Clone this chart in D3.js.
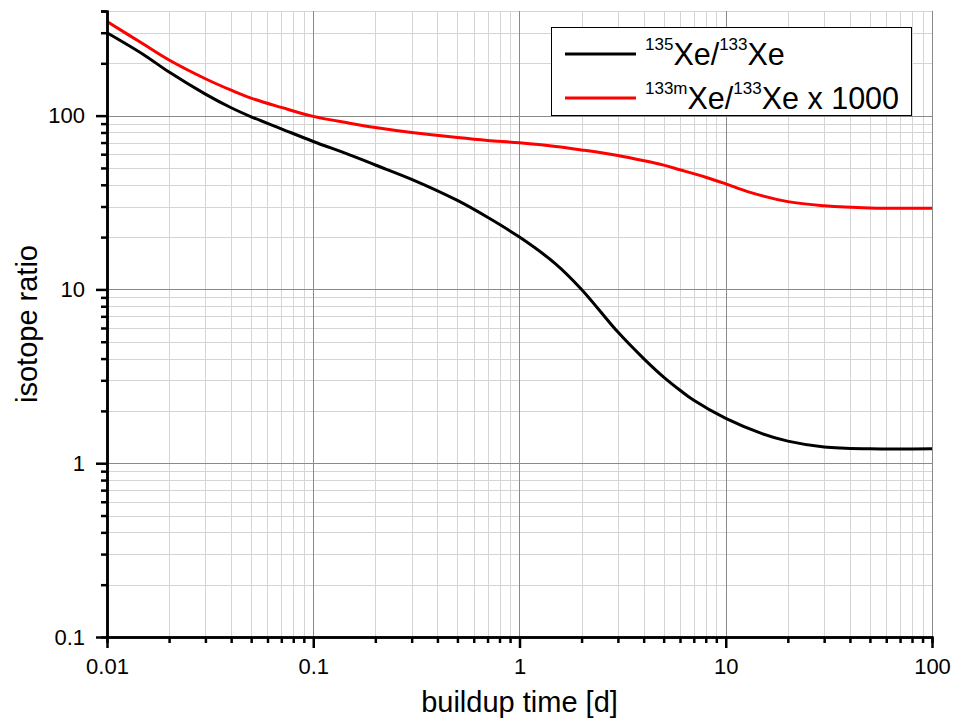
<!DOCTYPE html>
<html>
<head>
<meta charset="utf-8">
<script src="https://cdn.jsdelivr.net/npm/d3@7"></script>
<style>
  html, body { margin: 0; padding: 0; background: #fff; }
  svg { display: block; font-family: "Liberation Sans", Arial, sans-serif; }
</style>
</head>
<body>
<svg id="chart" width="956" height="720"></svg>
<script>
// 135Xe / 133Xe against buildup time (days)
const timeXe135 = [0.01, 0.015, 0.02, 0.03, 0.04, 0.05, 0.07, 0.1, 0.15, 0.2, 0.3, 0.5, 0.7, 1, 1.5, 2, 3, 4, 5, 6, 7, 10, 15, 20, 30, 50, 100];
const ratioXe135 = [300, 225, 178, 133, 111, 98.5, 84, 71, 59.5, 52, 43, 32.5, 26, 20, 14, 10, 5.68, 4.0, 3.13, 2.63, 2.30, 1.81, 1.48, 1.34, 1.24, 1.21, 1.21];

// 133mXe / 133Xe x 1000 against buildup time (days)
const timeXe133m = [0.01, 0.015, 0.02, 0.03, 0.04, 0.05, 0.07, 0.1, 0.15, 0.2, 0.3, 0.5, 0.7, 1, 1.5, 2, 3, 4, 5, 6, 8, 10, 13, 20, 30, 50, 100];
const ratioXe133m = [348, 258, 209, 163, 140, 126, 111.5, 99, 90.5, 85.5, 80, 74.8, 72, 69.8, 66.5, 63.5, 59, 55.1, 51.9, 48.8, 44.2, 40.5, 36.3, 32, 30.3, 29.4, 29.3];

const xMajorTicks = [0.01, 0.1, 1, 10, 100];
const xTickLabels = ["0.01", "0.1", "1", "10", "100"];
const yMajorTicks = [0.1, 1, 10, 100];
const yTickLabels = ["0.1", "1", "10", "100"];

const xDomain = [0.01, 100];
const yDomain = [0.1, 400];

const svg = d3.select("#chart");
const plot = { left: 107, right: 932, top: 11, bottom: 637 };

const x = d3.scaleLog().domain(xDomain).range([plot.left, plot.right]);
const y = d3.scaleLog().domain(yDomain).range([plot.bottom, plot.top]);

// minor positions: 2..9 within each decade, inside the domain
function minorValues(domain) {
  const out = [];
  for (let e = Math.floor(Math.log10(domain[0])); e <= Math.ceil(Math.log10(domain[1])); e++) {
    for (let m = 2; m <= 9; m++) {
      const v = m * Math.pow(10, e);
      if (v > domain[0] * 1.0001 && v < domain[1] * 1.0001) out.push(+v.toPrecision(6));
    }
  }
  return out;
}
const xMinor = minorValues(xDomain);
const yMinor = minorValues(yDomain);

// grid
const grid = svg.append("g");
grid.selectAll(".gxm").data(xMinor).enter().append("line")
  .attr("x1", d => Math.round(x(d)) + 0.5).attr("x2", d => Math.round(x(d)) + 0.5)
  .attr("y1", plot.top).attr("y2", plot.bottom)
  .attr("stroke", "#d4d4d4").attr("stroke-width", 1);
grid.selectAll(".gym").data(yMinor).enter().append("line")
  .attr("y1", d => Math.round(y(d)) + 0.5).attr("y2", d => Math.round(y(d)) + 0.5)
  .attr("x1", plot.left).attr("x2", plot.right)
  .attr("stroke", "#d4d4d4").attr("stroke-width", 1);
grid.selectAll(".gxM").data(xMajorTicks).enter().append("line")
  .attr("x1", d => Math.round(x(d)) + 0.5).attr("x2", d => Math.round(x(d)) + 0.5)
  .attr("y1", plot.top).attr("y2", plot.bottom)
  .attr("stroke", "#8a8a8a").attr("stroke-width", 1);
grid.selectAll(".gyM").data(yMajorTicks).enter().append("line")
  .attr("y1", d => Math.round(y(d)) + 0.5).attr("y2", d => Math.round(y(d)) + 0.5)
  .attr("x1", plot.left).attr("x2", plot.right)
  .attr("stroke", "#8a8a8a").attr("stroke-width", 1);

// curves
const line = d3.line()
  .x(d => x(d[0]))
  .y(d => y(d[1]))
  .curve(d3.curveCatmullRom.alpha(0.5));

svg.append("path")
  .datum(timeXe133m.map((t, i) => [t, ratioXe133m[i]]))
  .attr("d", line).attr("fill", "none")
  .attr("stroke", "#ff0000").attr("stroke-width", 3);
svg.append("path")
  .datum(timeXe135.map((t, i) => [t, ratioXe135[i]]))
  .attr("d", line).attr("fill", "none")
  .attr("stroke", "#000").attr("stroke-width", 3);

// axes
function styleAxis(g) {
  g.select(".domain").attr("stroke", "#000").attr("stroke-width", 2.5);
  g.selectAll(".tick line").attr("stroke", "#000").attr("stroke-width", 2.5);
  g.selectAll("text").attr("fill", "#000").style("font-size", "22px")
    .style("font-family", "'Liberation Sans', Arial, sans-serif");
}

const xAxisMinor = svg.append("g").attr("transform", `translate(0,${plot.bottom})`)
  .call(d3.axisBottom(x).tickValues(xMinor).tickSize(6).tickFormat(""));
styleAxis(xAxisMinor);
const xAxis = svg.append("g").attr("transform", `translate(0,${plot.bottom})`)
  .call(d3.axisBottom(x).tickValues(xMajorTicks).tickSize(11).tickSizeOuter(0)
    .tickPadding(10).tickFormat((d, i) => xTickLabels[i]));
styleAxis(xAxis);

const yAxisMinor = svg.append("g").attr("transform", `translate(${plot.left},0)`)
  .call(d3.axisLeft(y).tickValues(yMinor).tickSize(6).tickFormat(""));
styleAxis(yAxisMinor);
const yAxis = svg.append("g").attr("transform", `translate(${plot.left},0)`)
  .call(d3.axisLeft(y).tickValues(yMajorTicks).tickSize(11).tickSizeOuter(0)
    .tickPadding(11).tickFormat((d, i) => yTickLabels[i]));
styleAxis(yAxis);

// axis titles
svg.append("text")
  .attr("x", (plot.left + plot.right) / 2).attr("y", 712)
  .attr("text-anchor", "middle").style("font-size", "29px")
  .text("buildup time [d]");
svg.append("text")
  .attr("transform", `translate(37,${(plot.top + plot.bottom) / 2}) rotate(-90)`)
  .attr("text-anchor", "middle").style("font-size", "29px")
  .text("isotope ratio");

// legend
const legend = svg.append("g");
legend.append("rect")
  .attr("x", 551.5).attr("y", 27.5).attr("width", 360).attr("height", 88)
  .attr("fill", "#fff").attr("stroke", "#000").attr("stroke-width", 1);

const legendItems = [
  { color: "#000", y: 54, parts: [["135", true], ["Xe/", false], ["133", true], ["Xe", false]] },
  { color: "#ff0000", y: 98, parts: [["133m", true], ["Xe/", false], ["133", true], ["Xe x 1000", false]] }
];
legendItems.forEach(item => {
  legend.append("line")
    .attr("x1", 565).attr("x2", 636).attr("y1", item.y).attr("y2", item.y)
    .attr("stroke", item.color).attr("stroke-width", 3);
  const t = legend.append("text").attr("x", 645);
  item.parts.forEach(([s, sup]) => {
    t.append("tspan")
      .attr("y", sup ? item.y - 4 : item.y + 11)
      .style("font-size", sup ? "17px" : "30.5px")
      .text(s);
  });
});
</script>
</body>
</html>
